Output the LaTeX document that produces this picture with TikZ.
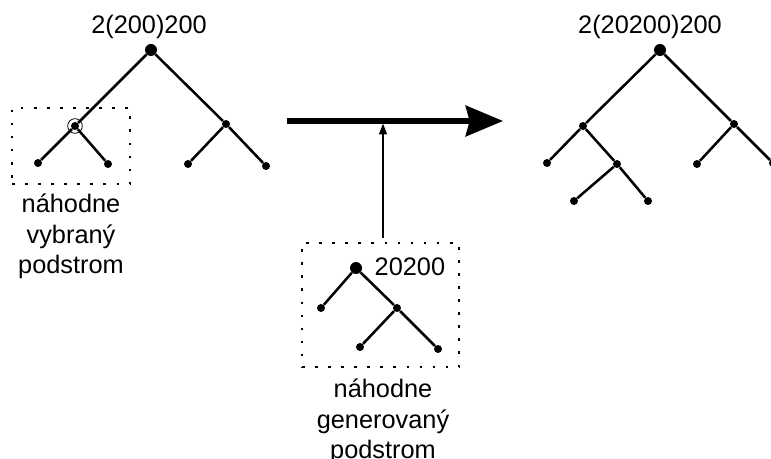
\documentclass[tikz,border=0pt]{standalone}
\usepackage{fontspec}
\setmainfont{Liberation Sans}
\usetikzlibrary{arrows.meta}

\tikzset{
  bigdot/.style   = {circle, fill, inner sep = 0pt, minimum size = 9pt},
  smalldot/.style = {circle, fill, inner sep = 0pt, minimum size = 6pt},
  branch/.style   = {line width = 1.9pt},
  selbox/.style   = {draw, line width = 2pt, dash pattern = on 2pt off 7.8pt,
                     inner sep = 0pt},
  caption/.style  = {align = center, anchor = base,
                     font = \fontsize{19}{23}\selectfont},
  treelabel/.style = {font = \fontsize{19}{23}\selectfont}
}

\begin{document}
\begin{tikzpicture}[x = 0.75pt, y = -0.75pt]
  \useasboundingbox (0,0) rectangle (771,459);

  % The original tree
  \node[bigdot]   (r)   at (151,50)  {};
  \node[smalldot] (a)   at (75,126)  {};
  \node[smalldot] (b)   at (226,124) {};
  \node[smalldot] (aa)  at (38,163)  {};
  \node[smalldot] (ab)  at (108,164) {};
  \node[smalldot] (ba)  at (188,164) {};
  \node[smalldot] (bb)  at (266,166) {};
  \draw[branch] (aa) -- (a) -- (r) -- (b) -- (bb);
  \draw[branch] (a) -- (ab);
  \draw[branch] (b) -- (ba);
  \node[draw, circle, line width = 0.6pt, minimum size = 11pt] (ring) at (a) {};
  \node[treelabel] (rlabel) at (149,27) {2(200)200};

  % The chosen subtree
  \node[selbox, minimum width = 88.5pt, minimum height = 57pt] (selbox) at (71,146) {};
  \node[caption] (seltext) at (71,274) {náhodne\\vybraný\\podstrom};

  % The generated subtree
  \node[bigdot]   (g)   at (356,268) {};
  \node[smalldot] (ga)  at (321,308) {};
  \node[smalldot] (gb)  at (397,308) {};
  \node[smalldot] (gba) at (360,347) {};
  \node[smalldot] (gbb) at (438,349) {};
  \draw[branch] (ga) -- (g) -- (gb) -- (gbb);
  \draw[branch] (gb) -- (gba);
  \node[treelabel, anchor = west] (glabel) at (370,267) {20200};
  \node[selbox, minimum width = 117.75pt, minimum height = 93pt] (genbox) at (380.5,305) {};
  \node[caption] (gentext) at (383,459) {náhodne\\generovaný\\podstrom};

  % The two arrows
  \coordinate (from) at (287,121);
  \coordinate (to)   at (503,121);
  \coordinate (mid)  at (383,121);
  \draw[line width = 3.8pt, -{Stealth[length = 28pt, width = 23pt, inset = 3pt]}] (from) -- (to);
  \draw[line width = 0.8pt, -{Triangle[length = 8pt, width = 6pt]}]
    ([yshift = 3pt]genbox.north -| mid) -- ([yshift = -2pt]mid);

  % The new tree
  \node[bigdot]   (n)    at (660,50)  {};
  \node[smalldot] (na)   at (583,126) {};
  \node[smalldot] (nb)   at (734,124) {};
  \node[smalldot] (naa)  at (547,163) {};
  \node[smalldot] (nab)  at (617,164) {};
  \node[smalldot] (naba) at (574,201) {};
  \node[smalldot] (nabb) at (648,201) {};
  \node[smalldot] (nba)  at (697,164) {};
  \node[smalldot] (nbb)  at (773,163) {};
  \draw[branch] (naa) -- (na) -- (n) -- (nb) -- (nbb);
  \draw[branch] (na) -- (nab) -- (nabb);
  \draw[branch] (nab) -- (naba);
  \draw[branch] (nb) -- (nba);
  \node[treelabel] (nlabel) at (650,27) {2(20200)200};
\end{tikzpicture}
\end{document}
